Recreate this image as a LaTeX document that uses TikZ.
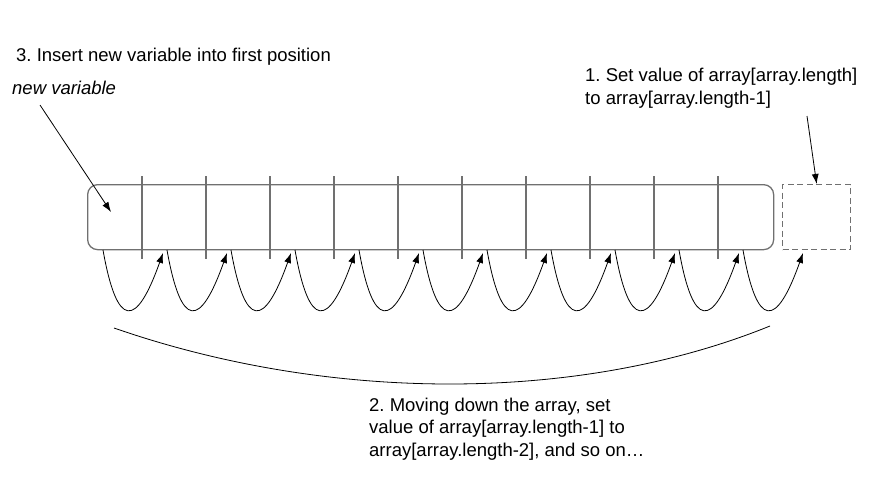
\documentclass[tikz,border=0pt]{standalone}
\usepackage{fontspec}
\setmainfont{Liberation Sans}
\frenchspacing
\usetikzlibrary{arrows.meta}
\definecolor{arraygray}{HTML}{707070}
\tikzstyle{arrow}=[draw, line width=0.8pt, -{Latex[length=10pt,width=7pt]}]
\tikzstyle{cellbox}=[draw=arraygray, line width=1.3pt]
\tikzstyle{label}=[inner sep=0pt, align=left, font=\fontsize{18.5}{22.3}\selectfont]

\begin{document}
\begin{tikzpicture}[x=1pt, y=-1pt]
\useasboundingbox (0,0) rectangle (889,487);
\node[cellbox, rounded corners=10pt, inner sep=0pt, minimum width=686pt, minimum height=65pt, anchor=north west] (arr) at (87,184) {};
\foreach \x in {142,206,270,334,398,462,526,590,654,718} % cell dividers
\draw[cellbox] (\x,176) -- (\x,259);
\node[cellbox, draw=arraygray, dash pattern=on 6pt off 3.5pt, inner sep=0pt, minimum width=68pt, minimum height=65pt, anchor=north west] (newslot) at (782,184) {};

% base of a multi-line label is its last line
\node[label, anchor=base west] (step3) at (16,62) {3. Insert new variable into first position};
\node[label, anchor=base west, font=\fontsize{18.5}{22.3}\selectfont\itshape] (newvar) at (12,95) {new variable};
\node[label, anchor=base west] (step1) at (585,104) {1. Set value of array[array.length]\\to array[array.length-1]};
\node[label, anchor=base west] (step2) at (369,456) {2. Moving down the array, set\\value of array[array.length-1] to\\array[array.length-2], and so on\dots};

\coordinate (nvtail) at (40,105);
\coordinate (cell0) at (111,212);
\path[arrow] (nvtail) -- (cell0);
\coordinate (s1tail) at (807,116);
\path[arrow] (s1tail) -- (newslot.north);

\foreach \k in {0,...,10} % shift each value one place right
{
\coordinate (from\k) at ({103+64*\k},250);
\coordinate (to\k) at ({163+64*\k},253);
\path[arrow] (from\k) .. controls +(14,79) and +(-27,76) .. (to\k);
}

\coordinate (bracel) at (114,328);
\coordinate (bracer) at (770,326);
\draw[line width=0.8pt] (bracel) .. controls (330,403) and (580,403) .. (bracer);
\end{tikzpicture}
\end{document}
